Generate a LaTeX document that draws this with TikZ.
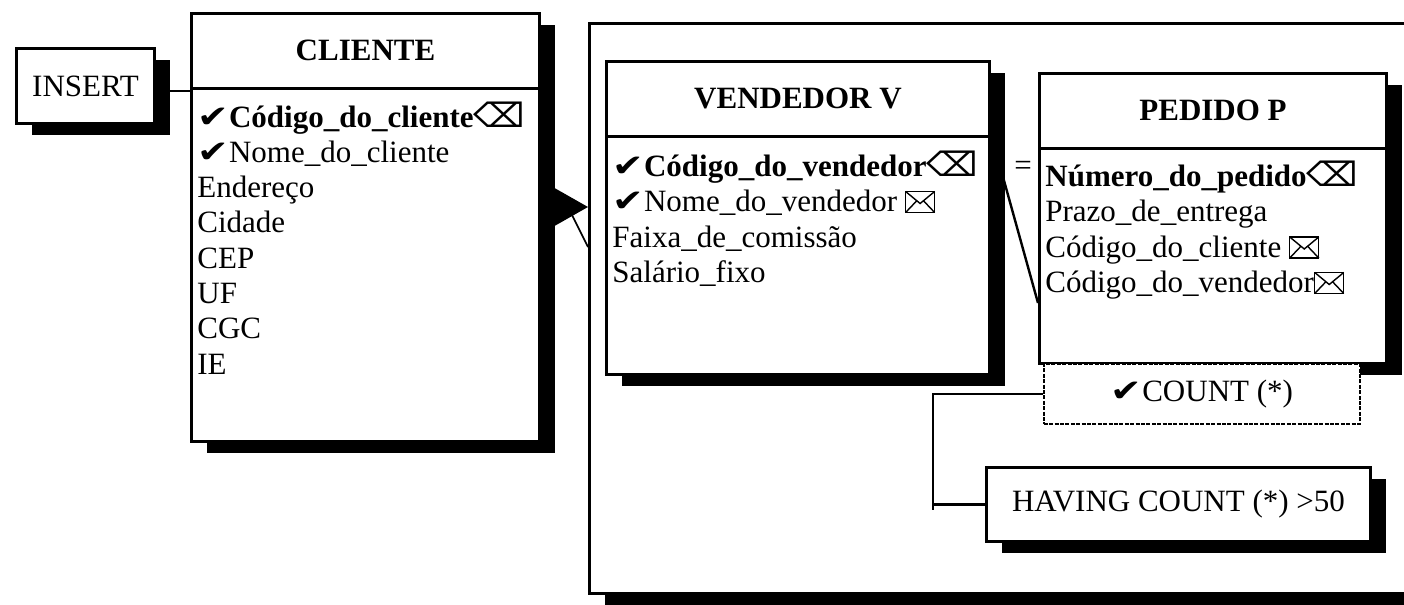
\documentclass[tikz,border=0pt]{standalone}
\usepackage{fontspec}
\usepackage{graphicx}
\setmainfont{Liberation Serif}
\newfontfamily\symf{DejaVu Sans}
\usetikzlibrary{shadows,arrows.meta}

\newcommand\chk{\scalebox{1.35}[1.1]{\symf\fontsize{14}{17}\selectfont ✔}}
\newcommand\pk{\scalebox{1.3}[1.2]{\symf\fontsize{14}{17}\selectfont ⌫}}
\newcommand\fk{\tikz[baseline=0.5pt, x=1pt, y=1pt, line width=0.7pt]{%
  \draw (0,0) rectangle (14.5,10.5);
  \draw (0,10.5) -- (7.25,4.5) -- (14.5,10.5);
  \draw (0,0) -- (5.6,5.9) (14.5,0) -- (8.9,5.9);}}

\tikzset{
  box/.style={draw, line width=1.5pt, fill=white, anchor=north west, inner sep=0pt,
    font=\fontsize{15.5}{18}\selectfont,
    drop shadow={shadow xshift=7.5pt, shadow yshift=-5.5pt, fill=black, opacity=1}},
  cntbox/.style={draw, line width=0.8pt, dash pattern=on 2pt off 0.7pt, fill=white,
    anchor=north west, inner sep=0pt, font=\fontsize{15.5}{18}\selectfont},
  hdr/.style={font=\fontsize{15.5}{18}\selectfont\bfseries, inner sep=0pt},
  attr/.style={anchor=base west, inner sep=0pt, font=\fontsize{15.5}{18}\selectfont},
  conn/.style={line width=1.2pt},
}

\begin{document}
\begin{tikzpicture}[x=0.5pt, y=-0.5pt]
  \useasboundingbox (0,0) rectangle (1404,605);

  % group frame
  \node[box, minimum width=420pt, minimum height=285pt] (grp) at (588,22) {};

  % VENDEDOR V
  \node[box, minimum width=191.5pt, minimum height=156.5pt] (ven) at (605,60) {};
  \draw[line width=1.5pt] ([yshift=-38pt]ven.north west) -- ([yshift=-38pt]ven.north east);
  \node[hdr] (ven-t) at ([yshift=-19pt]ven.north) {VENDEDOR V};
  \foreach \txt [count=\i from 0] in {{\chk\textbf{Código\_do\_vendedor}\pk},
      {\chk Nome\_do\_vendedor \fk}, Faixa\_de\_comissão, Salário\_fixo}
    \node[attr] (ven-\i) at (612,176+35.5*\i) {\txt};

  % PEDIDO P
  \node[box, minimum width=173.5pt, minimum height=145pt] (ped) at (1038,72) {};
  \draw[line width=1.5pt] ([yshift=-38pt]ped.north west) -- ([yshift=-38pt]ped.north east);
  \node[hdr] (ped-t) at ([yshift=-19pt]ped.north) {PEDIDO P};
  \foreach \txt [count=\i from 0] in {{\textbf{Número\_do\_pedido}\pk},
      Prazo\_de\_entrega, {Código\_do\_cliente \fk}, {Código\_do\_vendedor\fk}}
    \node[attr] (ped-\i) at (1045,186+35.5*\i) {\txt};

  \node[cntbox, minimum width=158pt, minimum height=30pt] (cnt) at (1043,363) {\chk COUNT (*)};
  \node[box, minimum width=192pt, minimum height=37pt] (hav) at (985,466) {HAVING COUNT (*) >50};

  % CLIENTE
  \node[box, minimum width=174pt, minimum height=214pt] (cli) at (190,12) {};
  \draw[line width=1.5pt] ([yshift=-38pt]cli.north west) -- ([yshift=-38pt]cli.north east);
  \node[hdr] (cli-t) at ([yshift=-19pt]cli.north) {CLIENTE};
  \foreach \txt [count=\i from 0] in {{\chk\textbf{Código\_do\_cliente}\pk},
      {\chk Nome\_do\_cliente}, Endereço, Cidade, CEP, UF, CGC, IE}
    \node[attr] (cli-\i) at (197,127+35.3*\i) {\txt};

  \node[box, minimum width=69pt, minimum height=37.5pt] (ins) at (15,47) {INSERT};

  % links
  \draw[conn] ([yshift=-2.5pt]ins.east) -- ([yshift=-2.5pt]ins.east -| cli.west);
  \draw[conn, -{Triangle[length=17pt, width=19pt]}] (cli.east |- 0,207) -- (grp.west |- 0,207);
  \draw[line width=0.8pt] (572,215) -- (grp.west |- 0,247);

  \coordinate (vj) at (1003,177);
  \coordinate (pj) at (ped.west |- 0,303);
  \draw[conn] (vj) -- (pj);
  \node[font=\fontsize{15.5}{18}\selectfont, inner sep=0pt] (eq) at (1023,168) {=};

  \coordinate (tail) at (933,510);
  \draw[conn] (cnt.west) -- (cnt.west -| tail) -- (tail);
  \draw[conn] (hav.west) -- (hav.west -| tail);
\end{tikzpicture}
\end{document}
